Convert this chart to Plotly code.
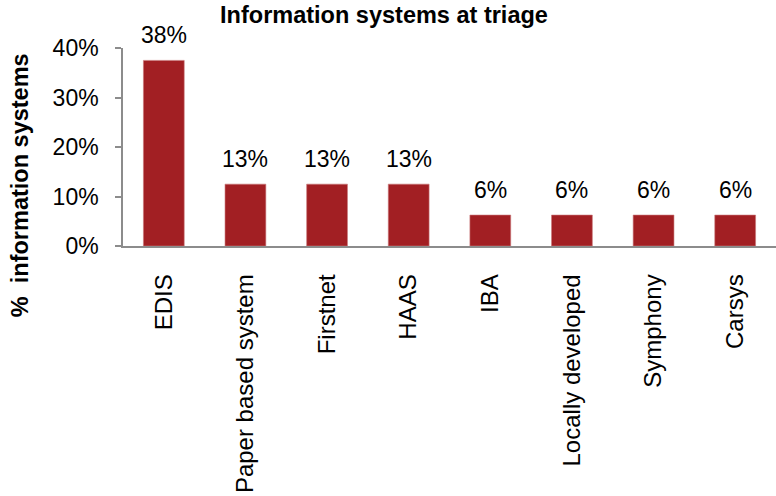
import plotly.graph_objects as go

categories = ["EDIS", "Paper based system", "Firstnet", "HAAS", "IBA",
              "Locally developed", "Symphony", "Carsys"]
values = [37.5, 12.5, 12.5, 12.5, 6.25, 6.25, 6.25, 6.25]
labels = ["38%", "13%", "13%", "13%", "6%", "6%", "6%", "6%"]
y_ticks = [0, 10, 20, 30, 40]
y_ticktext = ["0%", "10%", "20%", "30%", "40%"]

FONT = "Liberation Sans, Arial, sans-serif"
BAR = "#A21F23"

fig = go.Figure(go.Bar(
    x=categories, y=values, marker=dict(color=BAR, line=dict(color="#C9797B", width=0.6)),
    hoverinfo="skip",
))

for c, v, t in zip(categories, values, labels):
    fig.add_annotation(x=c, y=v, text=t, showarrow=False, yanchor="bottom",
                       yshift=10, font=dict(family=FONT, size=23, color="#000"))

fig.add_annotation(text="<b>%&nbsp;&nbsp;information systems</b>", xref="paper", yref="paper",
                   x=(20 - 123) / 654, y=0.5 - (185 - 147) / 198, textangle=-90,
                   showarrow=False, font=dict(family=FONT, size=23.5, color="#000"),
                   xanchor="center", yanchor="middle")

fig.update_layout(
    width=776, height=496,
    margin=dict(l=123, r=0, t=48, b=250, autoexpand=False),
    paper_bgcolor="white", plot_bgcolor="white",
    bargap=0.5, showlegend=False,
    title=dict(text="<b>Information systems at triage</b>", x=384 / 776, xref="container",
               y=1 - 15 / 496, yref="container", xanchor="center", yanchor="middle",
               font=dict(family=FONT, size=23.5, color="#000")),
    font=dict(family=FONT, size=23, color="#000"),
)
fig.update_xaxes(tickangle=-90, showline=True, linecolor="#8C8C8C", linewidth=1.5,
                 ticks="", showgrid=False, ticklabelstandoff=17, automargin=False,
                 tickfont=dict(family=FONT, size=24, color="#000"))
fig.update_yaxes(range=[0, 40], tickvals=y_ticks, ticktext=y_ticktext,
                 showline=True, linecolor="#8C8C8C", linewidth=1.5,
                 ticks="outside", ticklen=6, tickcolor="#8C8C8C", tickwidth=1.5,
                 showgrid=False, zeroline=False, ticklabelstandoff=12, automargin=False,
                 tickfont=dict(family=FONT, size=23, color="#000"))

fig.write_html("out.html", config={"displayModeBar": False},
               post_script="document.body.style.margin='0';")
